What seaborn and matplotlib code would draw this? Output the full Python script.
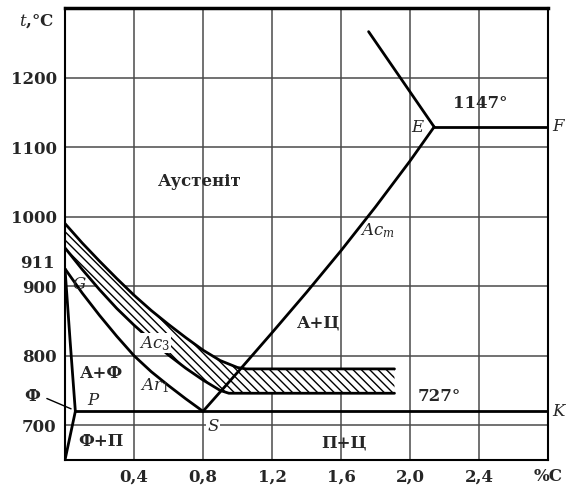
import matplotlib
matplotlib.use("Agg")
import matplotlib.pyplot as plt
import seaborn as sns

# carbon, % / temperature, C
x_ac3 = [0.0, 0.1, 0.2, 0.3, 0.4, 0.5, 0.6, 0.7, 0.8, 0.9, 1.0, 1.05, 1.91]
y_ac3 = [990, 962, 936, 911, 887, 865, 845, 826, 808, 793, 783, 781, 781]
x_ar3 = [0.0, 0.1, 0.2, 0.3, 0.4, 0.5, 0.6, 0.7, 0.8, 0.9, 0.95, 1.91]
y_ar3 = [955, 924, 895, 868, 844, 822, 801, 782, 765, 750, 746, 746]
x_gs = [0.0, 0.1, 0.2, 0.3, 0.4, 0.5, 0.6, 0.7, 0.8]
y_gs = [925, 890, 858, 828, 800, 777, 757, 738, 720]
x_gp = [0.0, 0.03, 0.06]
y_gp = [925, 820, 720]
x_pq = [0.06, 0.0]
y_pq = [720, 650]
x_psk = [0.06, 2.8]
y_psk = [720, 720]
x_se = [0.8, 1.0, 1.2, 1.4, 1.6, 1.8, 2.0, 2.14]
y_se = [720, 776, 833, 891, 951, 1014, 1080, 1129]
x_ef = [2.14, 2.8]
y_ef = [1129, 1129]
x_ce = [1.76, 2.14]
y_ce = [1266, 1129]

x_ticks = [0.4, 0.8, 1.2, 1.6, 2.0, 2.4, 2.8]
x_labels = ["0,4", "0,8", "1,2", "1,6", "2,0", "2,4", "%C"]
y_ticks = [700, 800, 900, 1000, 1100, 1200]

sns.set_style("white")
plt.rcParams["font.family"] = ["DejaVu Serif"]
plt.rcParams["mathtext.fontset"] = "dejavuserif"
plt.rcParams["hatch.linewidth"] = 1.0

fig = plt.figure(figsize=(5.66, 4.86), dpi=100)
ax = fig.add_axes([65 / 566, 26 / 486, 483 / 566, 452 / 486])
ax.set_xlim(0, 2.8)
ax.set_ylim(650, 1300)

ax.set_xticks(x_ticks)
ax.set_xticklabels(x_labels)
ax.set_yticks(y_ticks)
ax.set_yticklabels([str(v) for v in y_ticks])
ax.tick_params(length=0, labelsize=12, pad=6)
for lab in ax.get_xticklabels() + ax.get_yticklabels():
    lab.set_fontweight("bold")
ax.grid(True, color="#4a4a4a", lw=1.1)
ax.set_axisbelow(True)
for s in ax.spines.values():
    s.set_color("black")
    s.set_linewidth(1.5)
ax.spines["top"].set_linewidth(2.5)

# hatched Ac/Ar band
ax.fill(x_ac3 + x_ar3[::-1], y_ac3 + y_ar3[::-1], facecolor="white",
        edgecolor="black", hatch="\\\\\\\\", lw=0, zorder=2)

lines = [(x_ac3, y_ac3), (x_ar3, y_ar3), (x_gs, y_gs), (x_gp, y_gp),
         (x_pq, y_pq), (x_psk, y_psk), (x_se, y_se), (x_ef, y_ef), (x_ce, y_ce)]
for xs, ys in lines:
    sns.lineplot(x=xs, y=ys, sort=False, estimator=None, color="black",
                 lw=2.0, ax=ax, zorder=3)

bold = dict(fontweight="bold", fontsize=12, ha="center", va="center")
ax.text(0.78, 1050, "Аустеніт", **bold)
ax.text(1.47, 847, "А+Ц", **bold)
ax.text(0.21, 775, "А+Ф", **bold)
ax.text(0.21, 677, "Ф+П", **bold)
ax.text(1.62, 674, "П+Ц", **bold)
ax.text(2.17, 741, "727°", **bold)
ax.text(2.41, 1163, "1147°", **bold)

ital = dict(fontstyle="italic", fontsize=12, ha="center", va="center")
ax.text(2.04, 1128, "E", **ital)
ax.text(0.16, 736, "P", **ital)
ax.text(0.08, 902, "G", **ital)
ax.text(0.86, 698, "S", bbox=dict(fc="white", ec="none", pad=1), zorder=4, **ital)
ax.text(2.86, 1129, "F", clip_on=False, **ital)
ax.text(2.86, 720, "K", clip_on=False, **ital)

ax.text(0.52, 818, r"$Ac_3$", fontsize=12, ha="center", va="center",
        bbox=dict(fc="white", ec="none", pad=0.5), zorder=4)
ax.text(1.81, 980, r"$Ac_m$", fontsize=12, ha="center", va="center")
ax.text(0.52, 757, r"$Ar_1$", fontsize=12, ha="center", va="center")

ax.text(-0.06, 933, "911", ha="right", va="center", clip_on=False,
        fontweight="bold", fontsize=12)
ax.text(-0.06, 1281, r"$t$,°C", ha="right", va="center", clip_on=False,
        fontweight="bold", fontsize=12)
ax.text(-0.19, 742, "Ф", ha="center", va="center", clip_on=False,
        fontweight="bold", fontsize=12)
ax.annotate("", xy=(0.05, 722), xytext=(-0.12, 740),
            arrowprops=dict(arrowstyle="-", color="black", lw=1.0),
            annotation_clip=False)

fig.savefig("out.png", dpi=100)
